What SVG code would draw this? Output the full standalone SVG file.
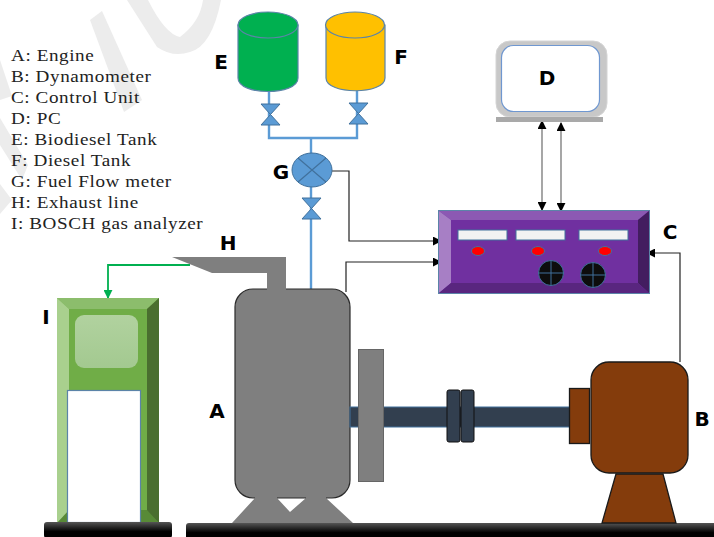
<svg xmlns="http://www.w3.org/2000/svg" width="714" height="537" viewBox="0 0 714 537">
<style>
.lbl{font-family:"DejaVu Sans","Liberation Sans",sans-serif;font-weight:700;font-size:20px;fill:#000;text-anchor:middle}
.leg{font-family:"Liberation Serif",serif;font-size:16.5px;letter-spacing:.5px;fill:#222}
.pipe{fill:none;stroke:#5b9bd5;stroke-width:2.4}
.valve{fill:#5b9bd5;stroke:#41719c;stroke-width:1}
.wire{fill:none;stroke:#222;stroke-width:1.2}
.wm{fill:#ececec}
.shaft{fill:#323f4f;stroke:#41719c;stroke-width:1}
.cpl{fill:#323f4f;stroke:#111;stroke-width:1}
.brown{fill:#843c0c;stroke:#1a1a1a;stroke-width:1.3}
.gray{fill:#7f7f7f}
.base{fill:url(#bg)}
.disp{fill:#f2f2f2;stroke:#41719c;stroke-width:1}
.led{fill:#f00;stroke:#41719c;stroke-width:1}
.knob{fill:#0d0d0d;stroke:#41719c;stroke-width:1}
.knobl{stroke:#41719c;stroke-width:1}
</style>
<defs>
<linearGradient id="bg" x1="0" y1="0" x2="0" y2="1"><stop offset="0" stop-color="#555"/><stop offset=".6" stop-color="#000"/><stop offset="1" stop-color="#000"/></linearGradient>
<linearGradient id="sc" x1="0" y1="0" x2="0" y2="1"><stop offset="0" stop-color="#b1d29f"/><stop offset="1" stop-color="#a3c990"/></linearGradient>
<marker id="ah" viewBox="0 0 10 10" refX="9" refY="5" markerWidth="9" markerHeight="9" markerUnits="userSpaceOnUse" orient="auto-start-reverse"><path d="M0 0L10 5L0 10Z" fill="#000"/></marker>
<marker id="ag" viewBox="0 0 10 10" refX="9" refY="5" markerWidth="9" markerHeight="9" markerUnits="userSpaceOnUse" orient="auto"><path d="M0 0L10 5L0 10Z" fill="#00b050"/></marker>
</defs>
<rect width="714" height="537" fill="#fff"/>
<g id="watermark">
<path class="wm" d="M90 20L102 11L142 100L124 112Z"/>
<path class="wm" d="M127 0L157 47Q173 58 190 52Q212 46 221 0H203Q200 22 180 37Q165 34 148 0Z"/>
<path class="wm" d="M0 60L12 96L0 100Z"/>
<path class="wm" d="M0 118L28 165L22 180L0 145Z"/>
<path class="wm" d="M0 184L12 200L0 214Z"/>
</g>
<g id="legend" class="leg" transform="scale(1.16 1)">
<text x="9.500" y="61">A: Engine</text>
<text x="9.500" y="82">B: Dynamometer</text>
<text x="9.500" y="103">C: Control Unit</text>
<text x="9.500" y="124">D: PC</text>
<text x="9.500" y="145">E: Biodiesel Tank</text>
<text x="9.500" y="166">F: Diesel Tank</text>
<text x="9.500" y="187">G: Fuel Flow meter</text>
<text x="9.500" y="208">H: Exhaust line</text>
<text x="9.500" y="229">I: BOSCH gas analyzer</text>
</g>
<g id="connectors">
<path class="pipe" d="M269 88V138H357V88M311 138V290"/>
<path class="wire" d="M332 171H349V241H441" marker-end="url(#ah)"/>
<path class="wire" d="M346 292V262H441" marker-end="url(#ah)"/>
<path class="wire" d="M680 362V253H647" marker-end="url(#ah)"/>
<path fill="none" stroke="#777" stroke-width="1.3" d="M542 210V121" marker-start="url(#ah)" marker-end="url(#ah)"/>
<path fill="none" stroke="#777" stroke-width="1.3" d="M561 211V123" marker-start="url(#ah)" marker-end="url(#ah)"/>
<path fill="none" stroke="#00b050" stroke-width="1.8" d="M190 265H108V298" marker-end="url(#ag)"/>
</g>
<g id="node-E">
<path d="M238 25V78C238 96 298 96 298 78V25Z" fill="#00b050" stroke="#5b84a8" stroke-width="1.2"/>
<ellipse cx="268" cy="25" rx="30" ry="13" fill="#00b050" stroke="#5b84a8" stroke-width="1.2"/>
<text class="lbl" x="221" y="69">E</text>
</g>
<g id="node-F">
<path d="M326 25V78C326 95 385 95 385 78V25Z" fill="#ffc000" stroke="#5b84a8" stroke-width="1.2"/>
<ellipse cx="355" cy="25" rx="29.500" ry="13" fill="#ffc000" stroke="#5b84a8" stroke-width="1.2"/>
<text class="lbl" x="401" y="64">F</text>
</g>
<g id="valves">
<path class="valve" d="M261 104H280L261 125H280Z"/>
<path class="valve" d="M349 103H368L349 124H368Z"/>
<path class="valve" d="M302 198H321L302 219H321Z"/>
</g>
<g id="node-G">
<ellipse cx="312" cy="170" rx="20" ry="17" fill="#5b9bd5" stroke="#41719c" stroke-width="1"/>
<path d="M298 158L326 182M326 158L298 182" stroke="#41719c" stroke-width="1.2"/>
<text class="lbl" x="281" y="179">G</text>
</g>
<g id="node-D">
<rect x="496" y="41" width="111" height="76" rx="14" fill="#c8c8c8" stroke="#d4d4d4"/>
<rect x="501.500" y="45.500" width="98" height="66" rx="12" fill="#fff" stroke="#6f97d0" stroke-width="1.2"/>
<rect x="496" y="117" width="107" height="5" fill="#a9a9a9"/>
<text class="lbl" x="547" y="85">D</text>
</g>
<g id="node-C">
<rect x="438.500" y="210.500" width="211" height="83" fill="#7030a0" stroke="#5b84a8"/>
<path d="M439 211H649L638 220H451Z" fill="#8c59b3"/>
<path d="M439 211L451 220V283L439 293Z" fill="#a77fc5"/>
<path d="M649 211L638 220V283L649 293Z" fill="#431d60"/>
<path d="M439 293L451 283H638L649 293Z" fill="#59267f"/>
<rect class="disp" x="458" y="230" width="49" height="10"/>
<rect class="disp" x="516" y="230" width="49" height="10"/>
<rect class="disp" x="579" y="230" width="49" height="10"/>
<ellipse class="led" cx="478" cy="251" rx="6.500" ry="4.500"/>
<ellipse class="led" cx="538" cy="251" rx="6.500" ry="4.500"/>
<ellipse class="led" cx="605" cy="251" rx="6.500" ry="4.500"/>
<circle class="knob" cx="551" cy="273" r="12.500"/>
<path class="knobl" d="M538.500 273H563.500M551 260.500V285.500"/>
<circle class="knob" cx="593" cy="275" r="12.500"/>
<path class="knobl" d="M580.500 275H605.500M593 262.500V287.500"/>
<text class="lbl" x="670" y="239">C</text>
</g>
<g id="node-H">
<path class="gray" d="M172 257H286V290H267V273H212Z"/>
<text class="lbl" x="228" y="250">H</text>
</g>
<g id="node-I">
<rect x="57" y="298" width="102" height="225" fill="#70ad47"/>
<path d="M57 298H159L147 309H69Z" fill="#8cbd6c"/>
<path d="M57 298L69 309V512L57 523Z" fill="#a9d08e"/>
<path d="M159 298L147 309V512L159 523Z" fill="#4a6e2f"/>
<path d="M57 523L69 510H147L159 523Z" fill="#588a37"/>
<rect x="75" y="315" width="63" height="53" rx="9" fill="url(#sc)"/>
<rect x="67.500" y="390.500" width="73" height="132" fill="#fff" stroke="#5b84a8" stroke-width="1.2"/>
<text class="lbl" x="46" y="324">I</text>
</g>
<g id="bases">
<rect class="base" x="44" y="522" width="128" height="16" rx="3"/>
<rect class="base" x="186" y="523" width="530" height="16" rx="3"/>
</g>
<g id="node-A">
<path class="gray" d="M232 523L255 498H277L290 512L306 498H326L353 523Z"/>
<rect x="235" y="289" width="115" height="209" rx="18" fill="#7f7f7f" stroke="#2a2a2a" stroke-width="1.2"/>
<path class="gray" d="M267 285H286V290H267Z"/>
<path class="gray" d="M255 496H277V499H255ZM306 496H326V499H306Z"/>
<rect class="shaft" x="350" y="407" width="220" height="20"/>
<rect x="358.500" y="349.500" width="25" height="132" fill="#7f7f7f" stroke="#666"/>
<text class="lbl" x="217" y="418">A</text>
</g>
<g id="coupling">
<rect class="cpl" x="447" y="390" width="13" height="52" rx="2"/>
<rect class="cpl" x="461" y="390" width="13" height="52" rx="2"/>
</g>
<g id="node-B">
<rect class="brown" x="569.500" y="388.500" width="20" height="55"/>
<rect class="brown" x="591" y="362" width="97" height="111" rx="18"/>
<path class="brown" d="M616 474H663L676 523H602Z"/>
<text class="lbl" x="702" y="426">B</text>
</g>
</svg>
